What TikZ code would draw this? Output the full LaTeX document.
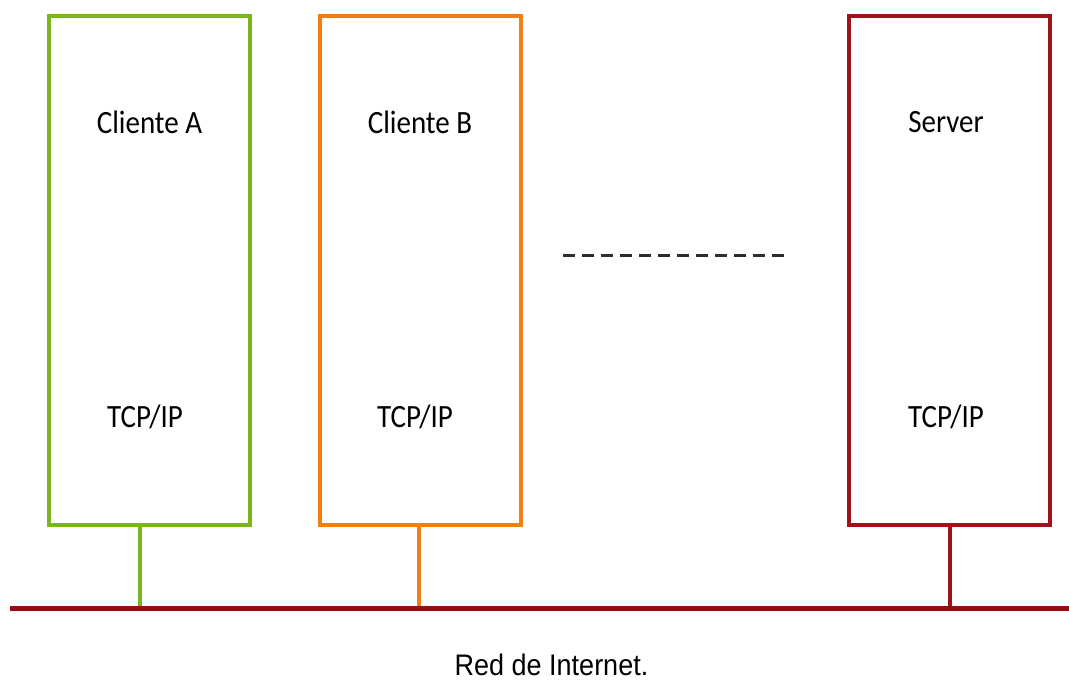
\documentclass[tikz,border=0pt]{standalone}
\usepackage{fontspec}
\newfontfamily\calib{Carlito}
\newfontfamily\arialf{Liberation Sans}
\definecolor{cgreen}{RGB}{122,181,29}
\definecolor{corange}{RGB}{240,128,22}
\definecolor{cred}{RGB}{160,18,26}
\definecolor{cbus}{RGB}{150,14,20}
\definecolor{cdash}{RGB}{45,45,45}
\tikzset{
  hostbox/.style={draw=#1, line width=4pt, minimum width=201pt, minimum height=509pt, inner sep=0pt, outer sep=0pt},
  stub/.style={draw=#1, line width=3.5pt},
  lbl/.style={font=\calib\fontsize{29}{30}\selectfont, inner sep=0pt, text=black},
  buslabel/.style={font=\arialf\fontsize{27}{28}\selectfont, inner sep=0pt, text=black},
}
\begin{document}
\begin{tikzpicture}[x=1pt,y=-1pt]
\useasboundingbox (0,0) rectangle (1069,681);
\node[hostbox=cgreen] (A) at (149.5,270.5) {};
\node[hostbox=corange] (B) at (420.5,270.5) {};
\node[hostbox=cred] (S) at (949,270.5) {};
\node[lbl] (la) at (149.5,122) {\scalebox{1}[1.12]{Cliente A}};
\node[lbl] (lb) at (420,122) {\scalebox{1}[1.12]{Cliente B}};
\node[lbl] (ls) at (946,122) {\scalebox{1}[1.12]{Server}};
\node[lbl] (ta) at (145,417) {\scalebox{1}[1.12]{TCP/IP}};
\node[lbl] (tb) at (415,417) {\scalebox{1}[1.12]{TCP/IP}};
\node[lbl] (ts) at (946,417) {\scalebox{1}[1.12]{TCP/IP}};
\coordinate (busL) at (10,608);
\coordinate (busR) at (1069,608);
\coordinate (pa) at (140,608);
\coordinate (pb) at (419,608);
\coordinate (ps) at (950,608);
\draw[stub=cgreen] (A.south -| pa) -- (pa);
\draw[stub=corange] (B.south -| pb) -- (pb);
\draw[stub=cred] (S.south -| ps) -- (ps);
\draw[cbus, line width=5pt] (busL) -- (busR);
\coordinate (d1) at (563,255);
\coordinate (d2) at (788,255);
\draw[cdash, line width=3pt, dash pattern=on 12pt off 7pt] (d1) -- (d2);
\node[buslabel] (net) at (551.5,665) {\scalebox{1}[1.1]{Red de Internet.}};
\end{tikzpicture}
\end{document}
